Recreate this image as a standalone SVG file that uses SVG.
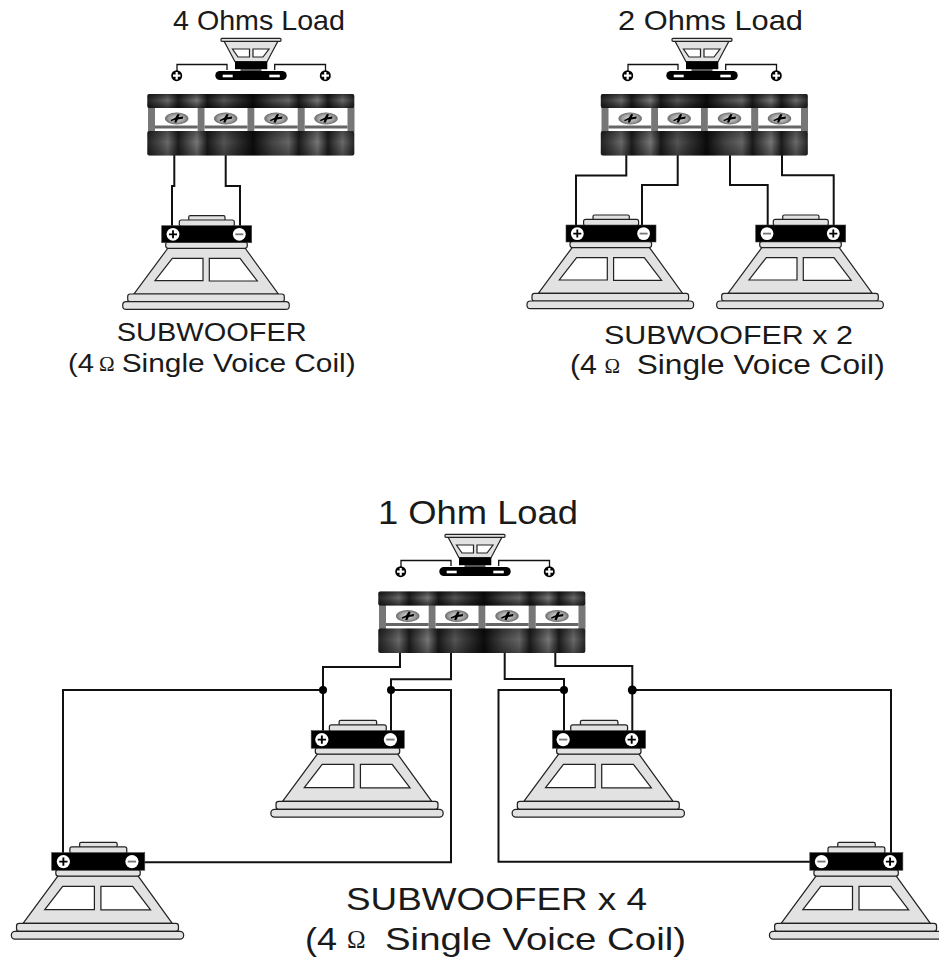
<svg xmlns="http://www.w3.org/2000/svg" width="939" height="960" viewBox="0 0 939 960">
<style>
.t{font-family:"Liberation Sans",Arial,sans-serif;fill:#1a1a1a}
.o{font-family:"Liberation Serif","DejaVu Serif",serif;fill:#1a1a1a}
.w{fill:none;stroke:#111;stroke-width:2;stroke-linejoin:miter}
.d{fill:#000}
.sp{fill:#e2e2e2;stroke:#222;stroke-width:1.2}
.wn{fill:#fff;stroke:#222;stroke-width:1.2}
</style>
<defs>
<linearGradient id="band" gradientUnits="userSpaceOnUse" x1="147" x2="355" y1="0" y2="0">
<stop offset="0" stop-color="#222"/><stop offset=".06" stop-color="#4a4a4a"/><stop offset=".1" stop-color="#6a6a6a"/><stop offset=".15" stop-color="#1d1d1d"/><stop offset=".24" stop-color="#777"/><stop offset=".29" stop-color="#1a1a1a"/><stop offset=".37" stop-color="#555"/><stop offset=".43" stop-color="#333"/><stop offset=".51" stop-color="#0c0c0c"/><stop offset=".6" stop-color="#444"/><stop offset=".68" stop-color="#666"/><stop offset=".73" stop-color="#1c1c1c"/><stop offset=".82" stop-color="#777"/><stop offset=".87" stop-color="#1d1d1d"/><stop offset=".94" stop-color="#6a6a6a"/><stop offset="1" stop-color="#222"/>
</linearGradient>
<linearGradient id="shade" x1="0" x2="0" y1="0" y2="1">
<stop offset="0" stop-color="#000" stop-opacity=".5"/><stop offset=".45" stop-color="#000" stop-opacity="0"/><stop offset="1" stop-color="#000" stop-opacity=".55"/>
</linearGradient>
<radialGradient id="scr" cx=".5" cy=".5" r=".6">
<stop offset="0" stop-color="#ddd"/><stop offset=".6" stop-color="#999"/><stop offset="1" stop-color="#444"/>
</radialGradient>
<g id="screw">
<ellipse cx="0" cy="0" rx="11.7" ry="6" fill="url(#scr)"/>
<path d="M-6 1.500 L-1.500 -.8 L1 -4.500 L3 -4 L1.800 -1.200 L6.500 -2 L6 .2 L1.200 1 L-.5 4.200 L-2.500 3.800 L-1.600 1.300 L-5.500 2.800Z" fill="#000"/>
</g>
<g id="block">
<rect x="147.500" y="106" width="207" height="26" fill="#fff"/>
<g fill="#777">
<rect x="148" y="107" width="7" height="25"/><rect x="197.700" y="107" width="6.800" height="25"/><rect x="247.500" y="107" width="6.800" height="25"/><rect x="297.700" y="107" width="7" height="25"/><rect x="347.500" y="107" width="7" height="25"/>
</g>
<g fill="#666">
<rect x="155" y="125.500" width="42.700" height="3"/><rect x="204.500" y="125.500" width="43" height="3"/><rect x="254.300" y="125.500" width="43.400" height="3"/><rect x="304.700" y="125.500" width="42.800" height="3"/>
</g>
<rect x="147.300" y="94" width="207" height="14" rx="2" fill="url(#band)"/>
<rect x="147.300" y="94" width="207" height="14" rx="2" fill="url(#shade)"/>
<rect x="147.300" y="131" width="207" height="24.500" rx="2" fill="url(#band)"/>
<rect x="147.300" y="131" width="207" height="24.500" rx="2" fill="url(#shade)" opacity=".6"/>
<use href="#screw" x="176.700" y="118.500"/><use href="#screw" x="225.700" y="118.500"/><use href="#screw" x="276" y="118.500"/><use href="#screw" x="326" y="118.500"/>
</g>
<g id="amp">
<path d="M177 71V64.500H227V70M274.700 70V64.500H325.500V71" fill="none" stroke="#111" stroke-width="1.300"/>
<circle cx="176.700" cy="75.700" r="5.500" fill="#000"/>
<path d="M173 75.700H180.400M176.700 72V79.400" stroke="#fff" stroke-width="2.200"/>
<circle cx="325.300" cy="75.700" r="5.500" fill="#000"/>
<path d="M321.600 75.700H329M325.300 72V79.400" stroke="#fff" stroke-width="2.200"/>
<path d="M224 41H278L267 61.700H235Z" class="sp"/>
<path d="M232.500 49H249.500V57H238ZM253 49H269L263 57H253Z" class="wn"/>
<rect x="221" y="38.300" width="60" height="3" rx="1" class="sp"/>
<rect x="235" y="61.700" width="32.300" height="7.500" fill="#000"/>
<rect x="240.500" y="69" width="21" height="2.500" fill="#555"/>
<rect x="215.300" y="71" width="71.400" height="9" rx="4.500" fill="#000"/>
<rect x="222.700" y="74.700" width="10" height="2.600" fill="#fff"/><rect x="269.300" y="74.700" width="10.500" height="2.600" fill="#fff"/>
</g>
<g id="spk">
<rect x="188.700" y="215.700" width="36.300" height="5" rx="1.500" class="sp"/>
<rect x="179.300" y="220" width="55" height="6.500" rx="2" class="sp"/>
<path d="M168 248H245L278.300 294H134Z" class="sp"/>
<path d="M172.300 258.300H203V280.700H155ZM209.300 258.300H240L257.300 281H209.300Z" class="wn"/>
<rect x="165.700" y="242" width="81.600" height="6.300" rx="2.500" class="sp"/>
<rect x="127.700" y="294" width="156.600" height="7.700" rx="2.500" class="sp"/>
<rect x="122.700" y="301.700" width="166.600" height="7.700" rx="3.500" class="sp"/>
<rect x="161.700" y="225.700" width="90" height="17" fill="#000" stroke="#444" stroke-width=".6"/>
</g>
<g id="plus"><circle r="6.400" fill="#fff"/><path d="M-4 0H4M0 -4V4" stroke="#000" stroke-width="1.800"/></g>
<g id="minus"><circle r="6.400" fill="#fff"/><path d="M-4 0H4" stroke="#777" stroke-width="1.800"/></g>
</defs>
<g id="connectors">
<path class="w" d="M174.300 155V186H172V227M225.700 155V186H240V227"/>
<path class="w" d="M626.300 155V175.500H576V226M677.700 155V185H642V226M730 155V185H767.700V226M782 155V175.300H833.700V226"/>
<path class="w" d="M400 652V667H323V732M451 652V679.300H391V732M504.700 652V679H564V732M555.300 652V666H632.300V732"/>
<path class="w" d="M323 690H63V855M391 690H451V862.300H130M564 690H498.500V861.700H815M632.300 690H891V855"/>
<circle class="d" cx="323" cy="690" r="4"/><circle class="d" cx="391" cy="690" r="4"/><circle class="d" cx="564" cy="690" r="4"/><circle class="d" cx="632.300" cy="690" r="4.500"/>
</g>
<g id="amp-4ohm"><use href="#amp"/></g>
<g id="block-4ohm"><use href="#block"/></g>
<g id="speaker-a1"><use href="#spk"/><use href="#plus" x="173" y="234.300"/><use href="#minus" x="239.300" y="234.300"/></g>
<g id="amp-2ohm" transform="translate(451 0)"><use href="#amp"/></g>
<g id="block-2ohm" transform="translate(453.500 0)"><use href="#block"/></g>
<g id="speaker-b1" transform="translate(404.300 -.7)"><use href="#spk"/><use href="#plus" x="173" y="234.300"/><use href="#minus" x="239.300" y="234.300"/></g>
<g id="speaker-b2" transform="translate(594 -.7)"><use href="#spk"/><use href="#minus" x="173" y="234.300"/><use href="#plus" x="239.300" y="234.300"/></g>
<g id="amp-1ohm" transform="translate(224 496)"><use href="#amp"/></g>
<g id="block-1ohm" transform="translate(231 497.500)"><use href="#block"/></g>
<g id="speaker-c1" transform="translate(144 497.300) scale(1.034)"><use href="#spk"/><use href="#plus" x="172" y="234.300"/><use href="#minus" x="238.300" y="234.300"/></g>
<g id="speaker-c2" transform="translate(385.300 497.300) scale(1.034)"><use href="#spk"/><use href="#minus" x="172" y="234.300"/><use href="#plus" x="238.300" y="234.300"/></g>
<g id="speaker-c3" transform="translate(-115.500 619.300) scale(1.034)"><use href="#spk"/><use href="#plus" x="173" y="234.300"/><use href="#minus" x="239.300" y="234.300"/></g>
<g id="speaker-c4" transform="translate(642.600 619.300) scale(1.034)"><use href="#spk"/><use href="#minus" x="173" y="234.300"/><use href="#plus" x="239.300" y="234.300"/></g>
<g id="labels">
<text class="t" x="173" y="30" font-size="27.500" textLength="172" lengthAdjust="spacingAndGlyphs">4 Ohms Load</text>
<text class="t" x="618" y="30" font-size="28.500" textLength="185" lengthAdjust="spacingAndGlyphs">2 Ohms Load</text>
<text class="t" x="378" y="524" font-size="33" textLength="200" lengthAdjust="spacingAndGlyphs">1 Ohm Load</text>
<text class="t" x="116.700" y="341" font-size="25" textLength="190" lengthAdjust="spacingAndGlyphs">SUBWOOFER</text>
<text class="t" x="68" y="372" font-size="26" textLength="26" lengthAdjust="spacingAndGlyphs">(4</text>
<text class="o" x="99" y="371" font-size="21">Ω</text>
<text class="t" x="121.700" y="372" font-size="26" textLength="234" lengthAdjust="spacingAndGlyphs">Single Voice Coil)</text>
<text class="t" x="604" y="344" font-size="26" textLength="249" lengthAdjust="spacingAndGlyphs">SUBWOOFER x 2</text>
<text class="t" x="570" y="374" font-size="27" textLength="27" lengthAdjust="spacingAndGlyphs">(4</text>
<text class="o" x="604.500" y="373" font-size="21">Ω</text>
<text class="t" x="636.700" y="374" font-size="27" textLength="248" lengthAdjust="spacingAndGlyphs">Single Voice Coil)</text>
<text class="t" x="346" y="910" font-size="32" textLength="301" lengthAdjust="spacingAndGlyphs">SUBWOOFER x 4</text>
<text class="t" x="305" y="950" font-size="32" textLength="32" lengthAdjust="spacingAndGlyphs">(4</text>
<text class="o" x="347" y="948" font-size="25">Ω</text>
<text class="t" x="385" y="950" font-size="32" textLength="301" lengthAdjust="spacingAndGlyphs">Single Voice Coil)</text>
</g>
</svg>
